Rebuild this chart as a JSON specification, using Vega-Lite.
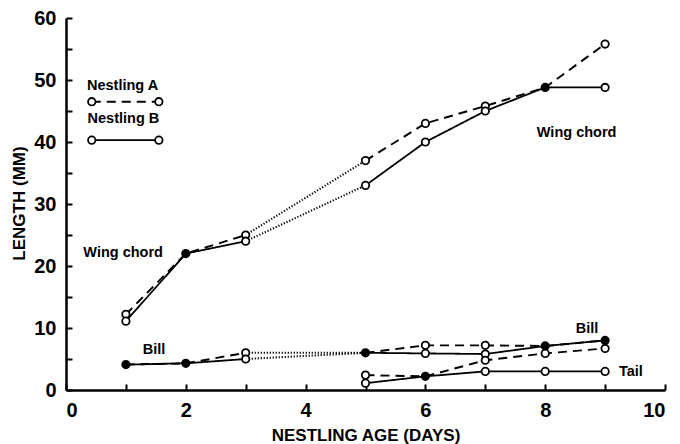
{
  "$schema": "https://vega.github.io/schema/vega-lite/v6.json",
  "autosize": {"type": "none"},
  "padding": {"left": 66, "top": 18, "right": 15, "bottom": 54},
  "width": 599,
  "height": 372,
  "background": "white",
  "config": {
    "view": {"stroke": null},
    "axis": {
      "grid": false,
      "domainColor": "black",
      "domainWidth": 2.5,
      "ticks": true,
      "tickColor": "black",
      "tickOpacity": 1,
      "tickWidth": 2,
      "tickSize": -6,
      "labelFont": "Liberation Sans",
      "labelFontWeight": "bold",
      "labelFontSize": 20,
      "labelColor": "black",
      "titleFont": "Liberation Sans",
      "titleFontWeight": "bold",
      "titleFontSize": 17,
      "titleColor": "black"
    }
  },
  "datasets": {
    "lines": [
      {"seg": "wA1", "style": "dashed", "day": 1, "value": 12.2},
      {"seg": "wA1", "style": "dashed", "day": 2, "value": 22},
      {"seg": "wA1", "style": "dashed", "day": 3, "value": 25},
      {"seg": "wAd", "style": "dotted", "day": 3, "value": 25},
      {"seg": "wAd", "style": "dotted", "day": 5, "value": 37},
      {"seg": "wA2", "style": "dashed", "day": 5, "value": 37},
      {"seg": "wA2", "style": "dashed", "day": 6, "value": 43},
      {"seg": "wA2", "style": "dashed", "day": 7, "value": 45.8},
      {"seg": "wA2", "style": "dashed", "day": 8, "value": 48.8},
      {"seg": "wA2", "style": "dashed", "day": 9, "value": 55.8},
      {"seg": "wB1", "style": "solid", "day": 1, "value": 11.1},
      {"seg": "wB1", "style": "solid", "day": 2, "value": 22},
      {"seg": "wB1", "style": "solid", "day": 3, "value": 24},
      {"seg": "wBd", "style": "dotted", "day": 3, "value": 24},
      {"seg": "wBd", "style": "dotted", "day": 5, "value": 33},
      {"seg": "wB2", "style": "solid", "day": 5, "value": 33},
      {"seg": "wB2", "style": "solid", "day": 6, "value": 40},
      {"seg": "wB2", "style": "solid", "day": 7, "value": 45},
      {"seg": "wB2", "style": "solid", "day": 8, "value": 48.8},
      {"seg": "wB2", "style": "solid", "day": 9, "value": 48.8},
      {"seg": "bA1", "style": "dashed", "day": 1, "value": 4.1},
      {"seg": "bA1", "style": "dashed", "day": 2, "value": 4.3},
      {"seg": "bA1", "style": "dashed", "day": 3, "value": 6},
      {"seg": "bAd", "style": "dotted", "day": 3, "value": 6},
      {"seg": "bAd", "style": "dotted", "day": 5, "value": 6},
      {"seg": "bA2", "style": "dashed", "day": 5, "value": 6},
      {"seg": "bA2", "style": "dashed", "day": 6, "value": 7.2},
      {"seg": "bA2", "style": "dashed", "day": 7, "value": 7.2},
      {"seg": "bA2", "style": "dashed", "day": 8, "value": 7.1},
      {"seg": "bA2", "style": "dashed", "day": 9, "value": 8},
      {"seg": "bB1", "style": "solid", "day": 1, "value": 4.1},
      {"seg": "bB1", "style": "solid", "day": 2, "value": 4.3},
      {"seg": "bB1", "style": "solid", "day": 3, "value": 5},
      {"seg": "bBd", "style": "dotted", "day": 3, "value": 5},
      {"seg": "bBd", "style": "dotted", "day": 5, "value": 6},
      {"seg": "bB2", "style": "solid", "day": 5, "value": 6},
      {"seg": "bB2", "style": "solid", "day": 6, "value": 5.9},
      {"seg": "bB2", "style": "solid", "day": 7, "value": 5.8},
      {"seg": "bB2", "style": "solid", "day": 8, "value": 7.1},
      {"seg": "bB2", "style": "solid", "day": 9, "value": 8},
      {"seg": "tA", "style": "dashed", "day": 5, "value": 2.4},
      {"seg": "tA", "style": "dashed", "day": 6, "value": 2.2},
      {"seg": "tA", "style": "dashed", "day": 7, "value": 4.8},
      {"seg": "tA", "style": "dashed", "day": 8, "value": 5.9},
      {"seg": "tA", "style": "dashed", "day": 9, "value": 6.7},
      {"seg": "tB", "style": "solid", "day": 5, "value": 1.1},
      {"seg": "tB", "style": "solid", "day": 6, "value": 2.2},
      {"seg": "tB", "style": "solid", "day": 7, "value": 3},
      {"seg": "tB", "style": "solid", "day": 8, "value": 3},
      {"seg": "tB", "style": "solid", "day": 9, "value": 3},
      {"seg": "legA", "style": "dashed", "day": 0.43, "value": 46.5},
      {"seg": "legA", "style": "dashed", "day": 1.55, "value": 46.5},
      {"seg": "legB", "style": "solid", "day": 0.43, "value": 40.3},
      {"seg": "legB", "style": "solid", "day": 1.55, "value": 40.3}
    ],
    "points": [
      {"day": 1, "value": 12.2, "fill": "open"},
      {"day": 1, "value": 11.1, "fill": "open"},
      {"day": 2, "value": 22, "fill": "filled"},
      {"day": 3, "value": 25, "fill": "open"},
      {"day": 3, "value": 24, "fill": "open"},
      {"day": 5, "value": 37, "fill": "open"},
      {"day": 5, "value": 33, "fill": "open"},
      {"day": 6, "value": 43, "fill": "open"},
      {"day": 6, "value": 40, "fill": "open"},
      {"day": 7, "value": 45.8, "fill": "open"},
      {"day": 7, "value": 45, "fill": "open"},
      {"day": 8, "value": 48.8, "fill": "filled"},
      {"day": 9, "value": 55.8, "fill": "open"},
      {"day": 9, "value": 48.8, "fill": "open"},
      {"day": 1, "value": 4.1, "fill": "filled"},
      {"day": 2, "value": 4.3, "fill": "filled"},
      {"day": 3, "value": 6, "fill": "open"},
      {"day": 3, "value": 5, "fill": "open"},
      {"day": 5, "value": 6, "fill": "filled"},
      {"day": 6, "value": 7.2, "fill": "open"},
      {"day": 6, "value": 5.9, "fill": "open"},
      {"day": 7, "value": 7.2, "fill": "open"},
      {"day": 7, "value": 5.8, "fill": "open"},
      {"day": 8, "value": 7.1, "fill": "filled"},
      {"day": 9, "value": 8, "fill": "filled"},
      {"day": 5, "value": 2.4, "fill": "open"},
      {"day": 5, "value": 1.1, "fill": "open"},
      {"day": 6, "value": 2.2, "fill": "filled"},
      {"day": 7, "value": 4.8, "fill": "open"},
      {"day": 7, "value": 3, "fill": "open"},
      {"day": 8, "value": 5.9, "fill": "open"},
      {"day": 8, "value": 3, "fill": "open"},
      {"day": 9, "value": 6.7, "fill": "open"},
      {"day": 9, "value": 3, "fill": "open"},
      {"day": 0.43, "value": 46.5, "fill": "open"},
      {"day": 1.55, "value": 46.5, "fill": "open"},
      {"day": 0.43, "value": 40.3, "fill": "open"},
      {"day": 1.55, "value": 40.3, "fill": "open"}
    ],
    "labels": [
      {"text": "Nestling A", "day": 0.35, "value": 48.4},
      {"text": "Nestling B", "day": 0.36, "value": 43.0},
      {"text": "Wing chord", "day": 0.29, "value": 21.4},
      {"text": "Bill", "day": 1.28, "value": 5.8},
      {"text": "Wing chord", "day": 7.86, "value": 40.8},
      {"text": "Bill", "day": 8.51, "value": 9.2},
      {"text": "Tail", "day": 9.23, "value": 2.2}
    ]
  },
  "encoding": {
    "x": {
      "field": "day", "type": "quantitative",
      "scale": {"domain": [0, 10], "nice": false, "zero": false},
      "axis": {
        "values": [0, 1, 2, 3, 4, 5, 6, 7, 8, 9, 10],
        "labelExpr": "datum.value % 2 === 0 ? datum.label : ''",
        "labelPadding": 16,
        "title": "NESTLING AGE (DAYS)",
        "titleBaseline": "alphabetic",
        "titleY": 50
      }
    },
    "y": {
      "field": "value", "type": "quantitative",
      "scale": {"domain": [0, 60], "nice": false, "zero": false},
      "axis": {
        "values": [0, 5, 10, 15, 20, 25, 30, 35, 40, 45, 50, 55, 60],
        "labelExpr": "datum.value % 10 === 0 ? datum.label : ''",
        "labelPadding": 16,
        "title": "LENGTH (MM)",
        "titleAngle": -90,
        "titleAlign": "center",
        "titleBaseline": "alphabetic",
        "titleX": -42,
        "titleY": 185
      }
    }
  },
  "layer": [
    {
      "data": {"name": "lines"},
      "mark": {"type": "line", "color": "black", "strokeCap": "butt"},
      "encoding": {
        "detail": {"field": "seg", "type": "nominal"},
        "strokeDash": {
          "field": "style", "type": "nominal",
          "scale": {"domain": ["solid", "dashed", "dotted"], "range": [[1, 0], [9, 6], [1.2, 1.8]]},
          "legend": null
        },
        "strokeWidth": {
          "field": "style", "type": "nominal",
          "scale": {"domain": ["solid", "dashed", "dotted"], "range": [1.8, 2.1, 1]},
          "legend": null
        }
      }
    },
    {
      "data": {"name": "points"},
      "mark": {"type": "point", "shape": "circle", "stroke": "black", "strokeWidth": 1.8, "size": 55, "opacity": 1},
      "encoding": {
        "fill": {
          "field": "fill", "type": "nominal",
          "scale": {"domain": ["open", "filled"], "range": ["white", "black"]},
          "legend": null
        }
      }
    },
    {
      "data": {"name": "labels"},
      "mark": {"type": "text", "align": "left", "baseline": "alphabetic", "font": "Liberation Sans", "fontWeight": "bold", "fontSize": 14.5, "color": "black"},
      "encoding": {
        "text": {"field": "text", "type": "nominal"}
      }
    }
  ]
}
